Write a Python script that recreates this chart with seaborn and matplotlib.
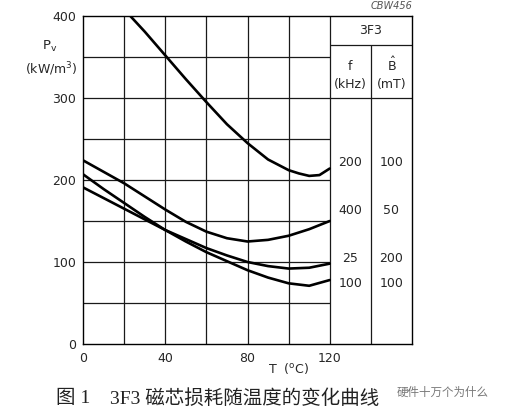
import pandas as pd
import matplotlib.pyplot as plt
import seaborn as sns

# curve data (3F3 ferrite)
temp = [0, 10, 20, 30, 40, 50, 60, 70, 80, 90, 100, 110, 120]
p_400k_50mt = [224, 210, 196, 180, 164, 149, 137, 129, 125, 127, 132, 140, 150]
p_25k_200mt = [191, 178, 165, 152, 139, 128, 117, 108, 100, 95, 92, 93, 98]
p_100k_100mt = [207, 189, 172, 155, 139, 125, 112, 101, 90, 81, 74, 71, 78]
temp_200k = [23, 30, 40, 50, 60, 70, 80, 90, 100, 105, 110, 115, 120]
p_200k_100mt = [400, 381, 352, 323, 295, 268, 245, 225, 212, 208, 205, 206, 214]

freq_labels = ['200', '400', '25', '100']
flux_labels = ['100', '50', '200', '100']

xticks = [0, 40, 80, 120]
yticks = [0, 100, 200, 300, 400]

frames = [
    pd.DataFrame({'T': temp_200k, 'Pv': p_200k_100mt, 'curve': '200/100'}),
    pd.DataFrame({'T': temp, 'Pv': p_400k_50mt, 'curve': '400/50'}),
    pd.DataFrame({'T': temp, 'Pv': p_25k_200mt, 'curve': '25/200'}),
    pd.DataFrame({'T': temp, 'Pv': p_100k_100mt, 'curve': '100/100'}),
]
data = pd.concat(frames, ignore_index=True)

sns.set_style('white')
plt.rcParams['font.family'] = ['DejaVu Sans']

fig = plt.figure(figsize=(5.07, 4.13), dpi=100)
ax = fig.add_axes([83 / 507, 1 - 344 / 413, 329 / 507, 328 / 413])

# grid, only inside the plot part; the table sits at 120..160
gc = '#1a1a1a'
for x in range(20, 120, 20):
    ax.vlines(x, 0, 400, color=gc, lw=0.9, zorder=1)
for y in range(50, 400, 50):
    ax.hlines(y, 0, 120, color=gc, lw=0.9, zorder=1)
ax.vlines(120, 0, 400, color=gc, lw=0.9)
ax.vlines(140, 0, 365, color=gc, lw=0.9)
ax.hlines([300, 365], 120, 160, color=gc, lw=0.9)

sns.lineplot(data=data, x='T', y='Pv', hue='curve', palette=['black'] * 4,
             lw=1.9, legend=False, ax=ax, zorder=3)

ax.set_xlim(0, 160)
ax.set_ylim(0, 400)
ax.set_xticks(xticks)
ax.set_yticks(yticks)
ax.tick_params(length=0, labelsize=9)
ax.tick_params(axis='x', pad=6)
ax.tick_params(axis='y', pad=5)
ax.set_xlabel('')
ax.set_ylabel('')
for s in ax.spines.values():
    s.set_color('black')
    s.set_linewidth(1.0)

# table text
fs = 9
ax.text(140, 382, '3F3', ha='center', va='center', fontsize=fs)
ax.text(130, 338, 'f', ha='center', va='center', fontsize=fs)
ax.text(130, 316, '(kHz)', ha='center', va='center', fontsize=fs)
ax.text(150, 340, r'$\mathregular{\hat{B}}$', ha='center', va='center', fontsize=fs)
ax.text(150, 316, '(mT)', ha='center', va='center', fontsize=fs)
for f, b, y in zip(freq_labels, flux_labels, [221, 163, 104, 74]):
    ax.text(130, y, f, ha='center', va='center', fontsize=fs)
    ax.text(150, y, b, ha='center', va='center', fontsize=fs)

fig.text(412 / 507, 1 - 6 / 413, 'CBW456', ha='right', va='center',
         fontsize=7, style='italic', color='#555555')
fig.text(50 / 507, 1 - 46 / 413, r'P$_\mathregular{v}$', ha='center', va='center', fontsize=9.5)
fig.text(51 / 507, 1 - 69 / 413, r'(kW/m$^\mathregular{3}$)', ha='center', va='center', fontsize=9)
fig.text(288 / 507, 1 - 368 / 413, r'T  ($^\mathregular{o}$C)', ha='center', va='center', fontsize=9)

cap = ['Liberation Serif', 'Noto Sans CJK SC']
fig.text(56 / 507, 1 - 398 / 413, '图 1', ha='left', va='center',
         fontsize=14, family=cap, color='#222222')
fig.text(110 / 507, 1 - 398 / 413, '3F3 磁芯损耗随温度的变化曲线', ha='left', va='center',
         fontsize=14, family=cap, color='#222222')
fig.text(397 / 507, 1 - 392 / 413, '硬件十万个为什么', ha='left', va='center',
         fontsize=8.3, family=['Noto Sans CJK SC', 'DejaVu Sans'], color='#777777')

fig.savefig('out.png', dpi=100)
